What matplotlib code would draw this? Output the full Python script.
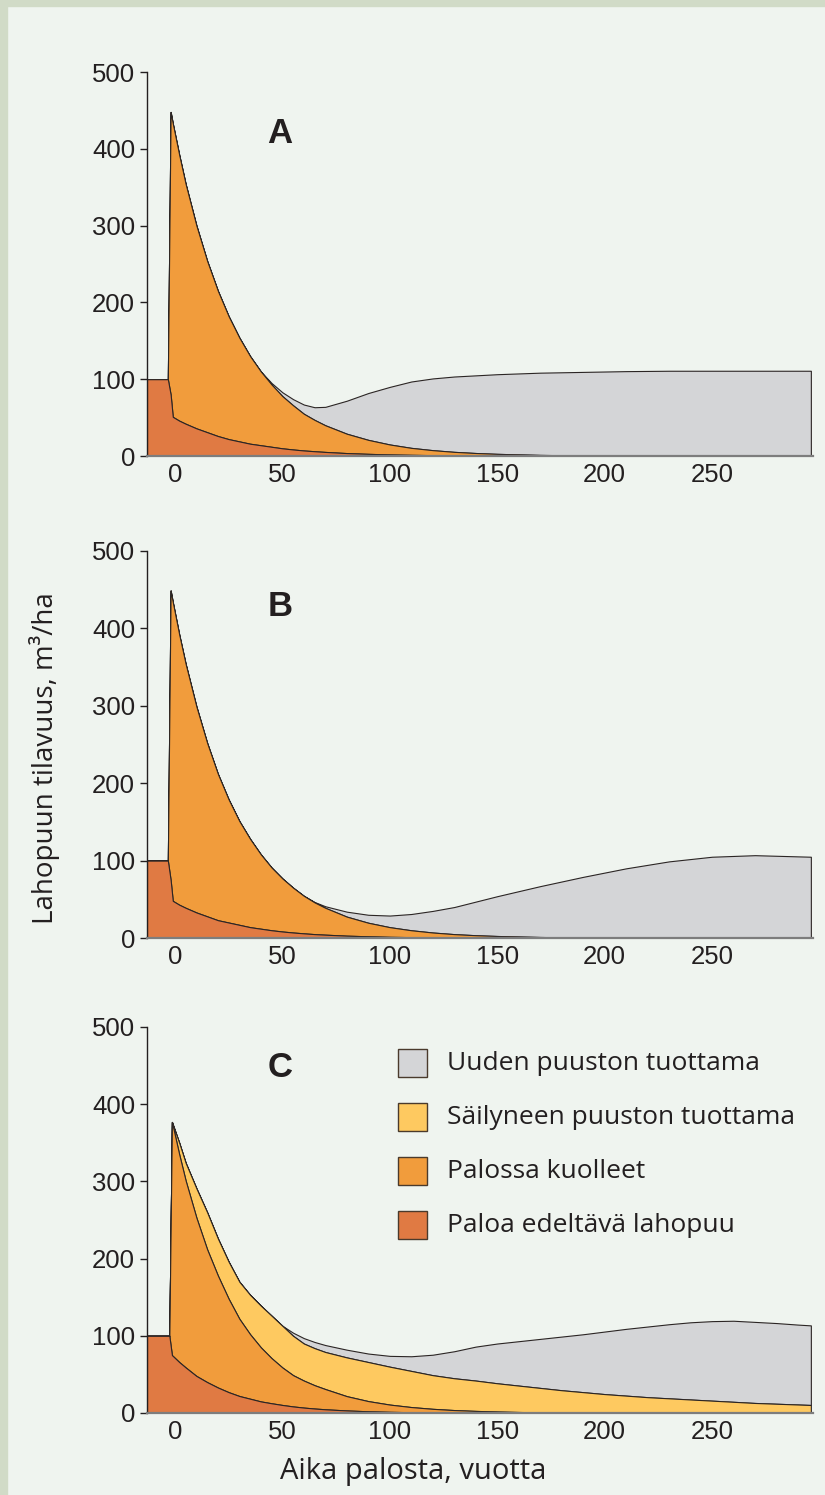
import matplotlib
matplotlib.use("Agg")
import matplotlib.pyplot as plt
from matplotlib.patches import Rectangle

# upper edges of the stacked bands (m3/ha)
years_ab = [-13, -3.3, -2, -1, 2, 5, 10, 15, 20, 25, 30, 35, 40, 45, 50, 55, 60, 65, 70,
            80, 90, 100, 110, 120, 130, 140, 150, 170, 190, 210, 230, 250, 270, 296]

a_pre = [100, 100, 80, 51, 46, 42, 36, 31, 26, 22, 19, 16, 14, 12, 10, 8.5, 7.2, 6.2, 5.3,
         3.8, 2.8, 2.0, 1.5, 1.1, 0.8, 0.6, 0.4, 0.2, 0.1, 0, 0, 0, 0, 0]
a_fire = [100, 100, 448, 433, 392, 354, 300, 254, 215, 182, 154, 130, 110, 93, 78, 66, 55, 47, 40,
          29, 21, 15, 10.6, 7.6, 5.4, 3.9, 2.8, 1.4, 0.7, 0.4, 0.2, 0, 0, 0]
a_new = [100, 100, 448, 433, 392, 354, 300, 254, 215, 182, 154, 130, 110, 95, 83, 74, 67, 63.5, 64,
         72, 82, 90, 97, 101, 103.5, 105, 106.5, 108.5, 109.5, 110.5, 111, 111, 111, 111]

b_pre = [100, 100, 75, 48, 43, 39, 33, 28, 23, 20, 17, 14, 12, 10, 8.4, 7.1, 6, 5, 4.3,
         3, 2.2, 1.5, 1.1, 0.8, 0.6, 0.4, 0.3, 0.15, 0.1, 0, 0, 0, 0, 0]
b_fire = [100, 100, 449, 434, 392, 354, 299, 252, 212, 179, 151, 128, 108, 91, 77, 65, 54.5, 46, 39,
          27.6, 19.7, 14, 10, 7.1, 5, 3.6, 2.6, 1.3, 0.6, 0.3, 0.15, 0, 0, 0]
b_new = [100, 100, 449, 434, 392, 354, 299, 252, 212, 179, 151, 128, 108, 91, 77, 65, 54.5, 46.5, 41,
         34, 30, 29, 31, 35, 40, 47, 54, 67, 79, 90, 99, 105, 107, 105]

years_c = [-13, -2.6, -1.4, 2, 5, 10, 15, 20, 25, 30, 35, 40, 45, 50, 55, 60, 65, 70, 80, 90, 100,
           110, 120, 130, 140, 150, 160, 170, 180, 190, 200, 210, 220, 230, 240, 250, 260, 270,
           280, 290, 296]

c_pre = [100, 100, 75, 66, 59, 48, 40, 33, 27, 22, 18.5, 15, 12.6, 10.4, 8.5, 7, 5.8, 4.8, 3.3, 2.2,
         1.5, 1.0, 0.7, 0.5, 0.3, 0.2, 0.15, 0.1, 0.05, 0, 0, 0, 0, 0, 0, 0, 0, 0, 0, 0, 0]
c_fire = [100, 100, 377, 335, 301, 253, 212, 178, 148, 122, 102, 85, 71, 59, 49, 42, 36, 31, 21.8,
          15.4, 10.9, 7.7, 5.4, 3.8, 2.7, 1.9, 1.3, 0.9, 0.7, 0.5, 0.3, 0.2, 0.1, 0, 0, 0, 0, 0, 0, 0, 0]
c_kept = [100, 100, 377, 350, 324, 291, 260, 226, 196, 170, 153, 139, 126, 113, 100, 90, 84, 79, 72,
          66, 60, 54.5, 49, 45, 42, 38.5, 35.5, 32.5, 29.5, 27, 24.5, 22.5, 20.5, 19, 17.5, 16,
          14.5, 13, 12, 11, 10.4]
c_new = [100, 100, 377, 350, 324, 291, 260, 226, 196, 170, 153, 139, 126, 113, 104, 97, 92, 88, 82,
         77, 74, 73.5, 75.5, 80, 86, 90, 93, 96, 99, 102, 105.5, 109, 112, 115, 117.5, 119, 119.5, 118,
         116.5, 114.5, 113.5]

legend_labels = ["Uuden puuston tuottama", "Säilyneen puuston tuottama",
                 "Palossa kuolleet", "Paloa edeltävä lahopuu"]
panel_labels = ["A", "B", "C"]
yticks = [0, 100, 200, 300, 400, 500]
xticks = [0, 50, 100, 150, 200, 250]

col_new = "#d4d5d7"
col_kept = "#fec960"
col_fire = "#f19c3c"
col_pre = "#e07a43"
bg = "#eff4ef"
border = "#d1dbc7"
ink = "#231f20"

W, H = 825, 1495
fig = plt.figure(figsize=(W / 100, H / 100), dpi=100, facecolor=bg)
fig.patches.append(Rectangle((0, 0), 7 / W, 1, transform=fig.transFigure, color=border, zorder=0))
fig.patches.append(Rectangle((0, 1 - 6 / H), 1, 6 / H, transform=fig.transFigure, color=border, zorder=0))


def make_axes(top_px, zero_px):
    ax = fig.add_axes([147 / W, 1 - zero_px / H, (813 - 147) / W, (zero_px - top_px) / H])
    ax.set_facecolor("none")
    ax.set_xlim(-13, 297)
    ax.set_ylim(0, 500)
    ax.set_xticks(xticks)
    ax.set_yticks(yticks)
    for s in ["top", "right"]:
        ax.spines[s].set_visible(False)
    ax.spines["left"].set_color(ink)
    ax.spines["left"].set_linewidth(1.0)
    ax.spines["bottom"].set_color("#7d7d7d")
    ax.spines["bottom"].set_linewidth(1.6)
    ax.tick_params(axis="y", length=5, width=1, color=ink, pad=3.5)
    ax.tick_params(axis="x", length=0, pad=5)
    ax.tick_params(labelsize=18.5, labelcolor=ink)
    for lab in ax.get_xticklabels() + ax.get_yticklabels():
        lab.set_family("Liberation Sans")
    return ax


def band(ax, x, lower, upper, color):
    ax.fill_between(x, lower, upper, facecolor=color, edgecolor="#2b2524", linewidth=0.8)


zeros_ab = [0] * len(years_ab)
zeros_c = [0] * len(years_c)

ax_a = make_axes(72, 456)
band(ax_a, years_ab, a_fire, a_new, col_new)
band(ax_a, years_ab, a_pre, a_fire, col_fire)
band(ax_a, years_ab, zeros_ab, a_pre, col_pre)

ax_b = make_axes(551, 938)
band(ax_b, years_ab, b_fire, b_new, col_new)
band(ax_b, years_ab, b_pre, b_fire, col_fire)
band(ax_b, years_ab, zeros_ab, b_pre, col_pre)

ax_c = make_axes(1027, 1413)
band(ax_c, years_c, c_kept, c_new, col_new)
band(ax_c, years_c, c_fire, c_kept, col_kept)
band(ax_c, years_c, c_pre, c_fire, col_fire)
band(ax_c, years_c, zeros_c, c_pre, col_pre)

for ax, lab, ypos in zip([ax_a, ax_b, ax_c], panel_labels, [420, 428, 447]):
    ax.text(49, ypos, lab, fontsize=25, fontweight="bold", family="Liberation Sans",
            color=ink, ha="center", va="center")

# legend drawn by hand to sit where the original has it
for i, (lab, col) in enumerate(zip(legend_labels, [col_new, col_kept, col_fire, col_pre])):
    yc = 1063 + i * 54
    fig.patches.append(Rectangle((398 / W, 1 - (yc + 14) / H), 29 / W, 28 / H,
                                 transform=fig.transFigure, facecolor=col,
                                 edgecolor="#4a3a2c", linewidth=1.0))
    fig.text(447 / W, 1 - yc / H, lab, fontsize=19, family="Open Sans",
             color=ink, ha="left", va="center")

fig.text(45 / W, 1 - 758 / H, "Lahopuun tilavuus, m³/ha", rotation=90, fontsize=20,
         family="Open Sans", color=ink, ha="center", va="center")
fig.text(413 / W, 1 - 1472 / H, "Aika palosta, vuotta", fontsize=21,
         family="Open Sans", color=ink, ha="center", va="center")

fig.savefig("out.png", dpi=100, facecolor=fig.get_facecolor())
